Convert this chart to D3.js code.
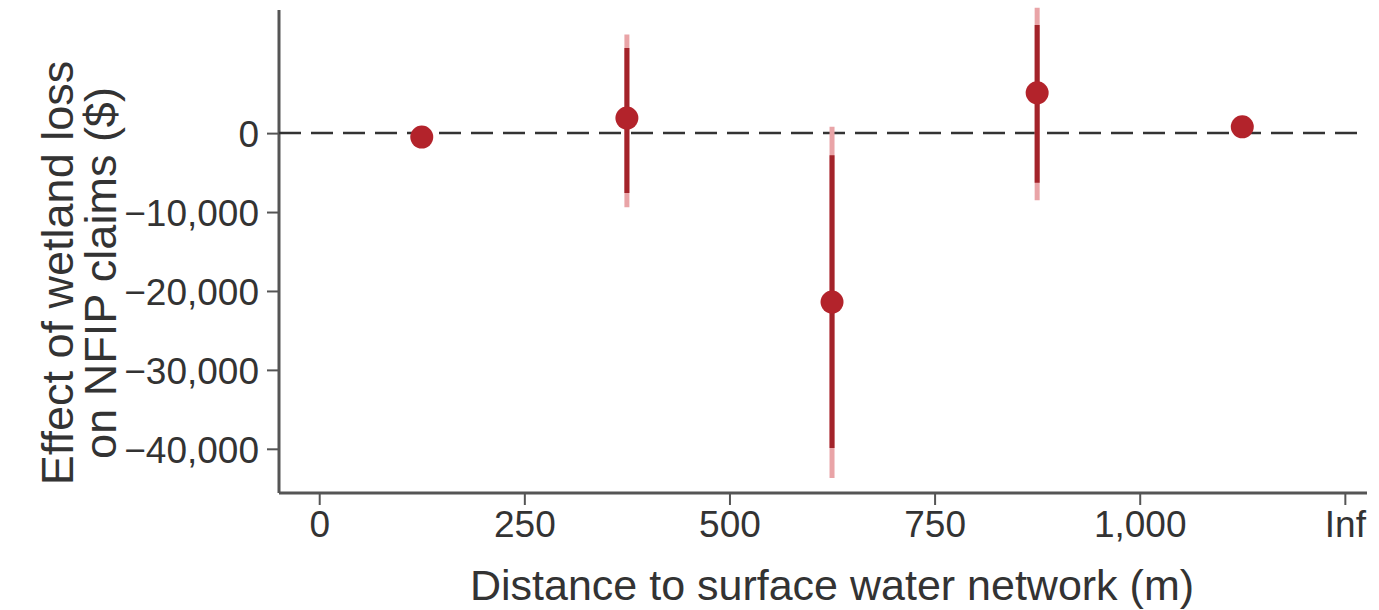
<!DOCTYPE html>
<html>
<head>
<meta charset="utf-8">
<script src="https://cdn.jsdelivr.net/npm/d3@7"></script>
<style>
    html, body { margin: 0; padding: 0; background: #fff; }
    text { font-family: "Liberation Sans", Arial, Helvetica, sans-serif; fill: #333; }
</style>
</head>
<body>
<div id="chart"></div>
<script>
// distance bins (m), bin midpoints
const distance = [125, 375, 625, 875, 1125];
// point estimates ($)
const estimate = [-500, 1900, -21400, 5100, 800];
// inner (dark) confidence interval
const innerLow = [null, -7600, -39900, -6300, null];
const innerHigh = [null, 10800, -2800, 13700, null];
// outer (light) confidence interval
const outerLow = [null, -9400, -43700, -8500, null];
const outerHigh = [null, 12500, 800, 15900, null];

const xTicks = [0, 250, 500, 750, 1000, 1250];
const xTickLabels = ["0", "250", "500", "750", "1,000", "Inf"];
const yTicks = [0, -10000, -20000, -30000, -40000];
const xDomain = [-49, 1277];
const yDomain = [-45600, 15600];

// set the dimensions and margins of the graph
const margin = { top: 10, right: 12, bottom: 117, left: 279 },
    width = 1379 - margin.left - margin.right,
    height = 610 - margin.top - margin.bottom;

const svg = d3.select("#chart")
    .append("svg")
    .attr("width", width + margin.left + margin.right)
    .attr("height", height + margin.top + margin.bottom);

const g = svg.append("g")
    .attr("transform", `translate(${margin.left},${margin.top})`);

const xScale = d3.scaleLinear(xDomain, [0, width]);
const yScale = d3.scaleLinear(yDomain, [height, 0]);

// X axis
const xAxis = g.append("g")
    .attr("transform", `translate(0,${height})`)
    .call(d3.axisBottom(xScale)
        .tickValues(xTicks)
        .tickFormat((d, i) => xTickLabels[i])
        .tickSize(12)
        .tickPadding(6)
    );

// Y axis
const yAxis = g.append("g")
    .call(d3.axisLeft(yScale)
        .tickValues(yTicks)
        .tickFormat(d3.format(","))
        .tickSize(12)
        .tickPadding(8)
    );

for (const axis of [xAxis, yAxis]) {
    axis.select(".domain")
        .attr("stroke", "#555")
        .attr("stroke-width", 3);
    axis.selectAll(".tick line")
        .attr("stroke", "#555")
        .attr("stroke-width", 2);
    axis.selectAll(".tick text")
        .attr("fill", "#333")
        .attr("font-size", 37);
}
// plain axis lines without end caps
xAxis.select(".domain").attr("d", `M0,0H${width}`);
yAxis.select(".domain").attr("d", `M0,0V${height}`);
yAxis.selectAll(".tick text").attr("dy", "0.36em");

// zero reference line
g.append("line")
    .attr("x1", 0)
    .attr("x2", width)
    .attr("y1", yScale(0))
    .attr("y2", yScale(0))
    .attr("stroke", "#333")
    .attr("stroke-width", 2.5)
    .attr("stroke-dasharray", "22,10");

const idx = d3.range(distance.length);

// outer (light) intervals
g.selectAll(".ci-outer")
    .data(idx.filter(i => outerLow[i] !== null))
    .join("line")
    .attr("class", "ci-outer")
    .attr("x1", i => xScale(distance[i]))
    .attr("x2", i => xScale(distance[i]))
    .attr("y1", i => yScale(outerLow[i]))
    .attr("y2", i => yScale(outerHigh[i]))
    .attr("stroke", "#e9a4a7")
    .attr("stroke-width", 5);

// inner (dark) intervals
g.selectAll(".ci-inner")
    .data(idx.filter(i => innerLow[i] !== null))
    .join("line")
    .attr("class", "ci-inner")
    .attr("x1", i => xScale(distance[i]))
    .attr("x2", i => xScale(distance[i]))
    .attr("y1", i => yScale(innerLow[i]))
    .attr("y2", i => yScale(innerHigh[i]))
    .attr("stroke", "#a3232a")
    .attr("stroke-width", 5);

// point estimates
g.selectAll(".point")
    .data(idx)
    .join("circle")
    .attr("class", "point")
    .attr("cx", i => xScale(distance[i]))
    .attr("cy", i => yScale(estimate[i]))
    .attr("r", 11.5)
    .attr("fill", "#b3232b");

// axis titles
svg.append("text")
    .attr("x", 832)
    .attr("y", 600)
    .attr("text-anchor", "middle")
    .attr("font-size", 43)
    .text("Distance to surface water network (m)");

const yTitle = svg.append("text")
    .attr("transform", "translate(0,273) rotate(-90)")
    .attr("text-anchor", "middle")
    .attr("font-size", 45);
yTitle.append("tspan")
    .attr("x", 0)
    .attr("y", 73)
    .text("Effect of wetland loss");
yTitle.append("tspan")
    .attr("x", 0)
    .attr("y", 116)
    .text("on NFIP claims ($)");
</script>
</body>
</html>
